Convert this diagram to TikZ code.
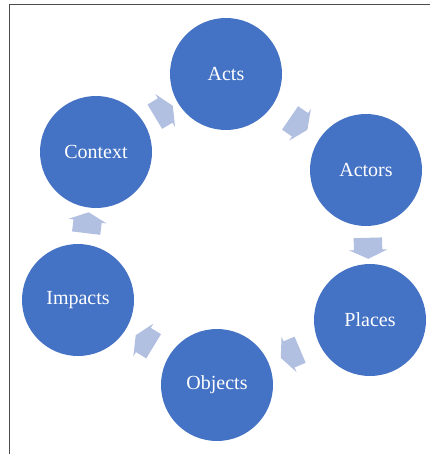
\documentclass[tikz,border=0pt]{standalone}
\usepackage{fontspec}
\setmainfont{Liberation Serif}
\usepackage{xcolor}
\usepackage{tikz}
\usetikzlibrary{shapes.arrows,calc}

\definecolor{cycleblue}{HTML}{4472C4}
\definecolor{arrowblue}{HTML}{B1BFE1}

\begin{document}
\begin{tikzpicture}[x=1pt, y=-1pt,
    stage/.style={circle, fill=cycleblue, text=white, minimum size=112pt, inner sep=0pt,
                  font=\fontsize{20}{24}\selectfont},
    turn/.style={single arrow, fill=arrowblue, inner xsep=0pt, inner ysep=14pt,
                 minimum height=21pt, single arrow head extend=5pt, single arrow tip angle=130}]
    \useasboundingbox (0,0) rectangle (430,454);

    % Frame lines on top and left
    \draw[black!70, line width=1pt] (9.5,454) -- (9.5,4.3) -- (430,4.3);

    % Stages of the cycle
    \node[stage] (acts) at (226,74) {Acts};
    \node[stage] (actors) at (366,170) {Actors};
    \node[stage] (places) at (370,320) {Places};
    \node[stage] (objects) at (217,385) {Objects};
    \node[stage] (impacts) at (78,300) {Impacts};
    \node[stage] (context) at (96,152) {Context};

    % Block arrows half way between neighbours
    \foreach \a/\b in {acts/actors, actors/places, places/objects,
                       objects/impacts, impacts/context, context/acts}
        \path let \p1=(\a.center), \p2=(\b.center), \n1={atan2(\y2-\y1,\x2-\x1)} in
            node[turn, rotate=\n1] (\a-\b) at ($(\a)!0.5!(\b)$) {};
\end{tikzpicture}
\end{document}
